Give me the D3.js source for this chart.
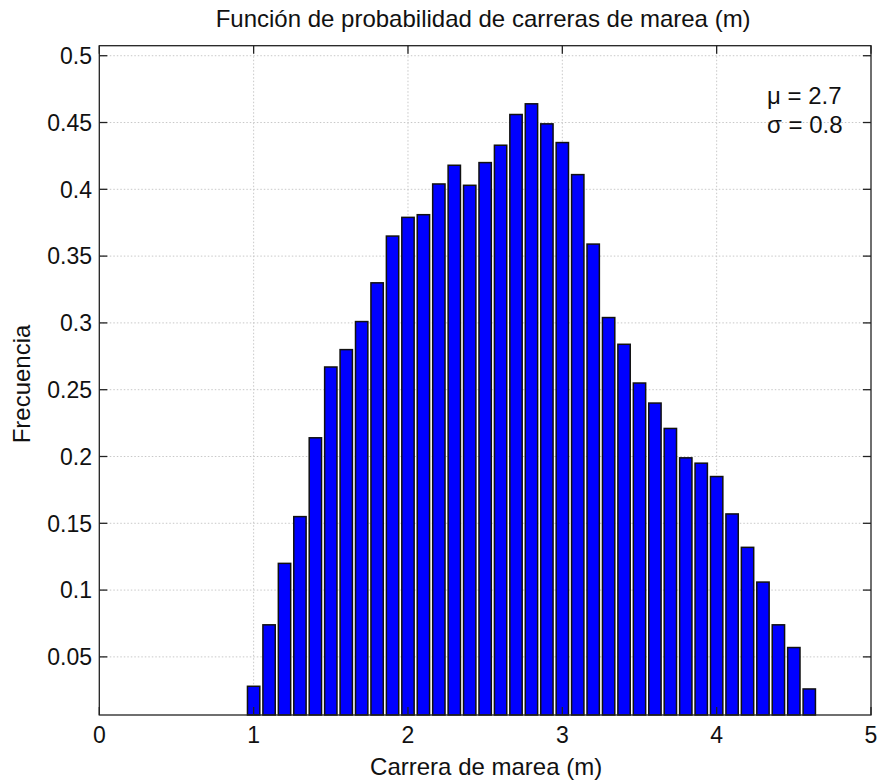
<!DOCTYPE html>
<html>
<head>
<meta charset="utf-8">
<script src="https://cdn.jsdelivr.net/npm/d3@7"></script>
<style>
  html, body { margin: 0; padding: 0; background: #fff; }
  svg { display: block; font-family: "Liberation Sans", Arial, sans-serif; }
</style>
</head>
<body>
<svg id="chart" width="879" height="780"></svg>
<script>
// ---- data ----
const binCenters = [1.0,1.1,1.2,1.3,1.4,1.5,1.6,1.7,1.8,1.9,2.0,2.1,2.2,2.3,2.4,2.5,2.6,2.7,2.8,2.9,3.0,3.1,3.2,3.3,3.4,3.5,3.6,3.7,3.8,3.9,4.0,4.1,4.2,4.3,4.4,4.5,4.6];
const frequencies = [0.028,0.074,0.120,0.155,0.214,0.267,0.280,0.301,0.330,0.365,0.379,0.381,0.404,0.418,0.403,0.420,0.433,0.456,0.464,0.449,0.435,0.411,0.359,0.304,0.284,0.255,0.240,0.221,0.199,0.195,0.185,0.157,0.132,0.106,0.074,0.057,0.026];
const xTicks = [0,1,2,3,4,5];
const yTicks = [0.05,0.1,0.15,0.2,0.25,0.3,0.35,0.4,0.45,0.5];
const yTickLabels = ["0.05","0.1","0.15","0.2","0.25","0.3","0.35","0.4","0.45","0.5"];
const titleText = "Función de probabilidad de carreras de marea (m)";
const xLabelText = "Carrera de marea (m)";
const yLabelText = "Frecuencia";
const statLines = ["\u03BC = 2.7", "\u03C3 = 0.8"];
const binWidth = 0.1;

// ---- layout ----
const L = 99.3, R = 871, T = 45.7, B = 715;
const svg = d3.select("#chart");
const x = d3.scaleLinear().domain([0, 5]).range([L, R]);
const y = d3.scaleLinear().domain([0.0065, 0.5075]).range([B, T]);

// grid
const grid = svg.append("g").attr("stroke", "#c8c8c8").attr("stroke-width", 1).attr("stroke-dasharray", "1.5,2");
grid.selectAll("line.gx").data(xTicks.filter(d => d > 0 && d < 5)).join("line")
  .attr("x1", d => x(d)).attr("x2", d => x(d)).attr("y1", T).attr("y2", B);
grid.selectAll("line.gy").data(yTicks).join("line")
  .attr("x1", L).attr("x2", R).attr("y1", d => y(d)).attr("y2", d => y(d));

// bars
const bw = x(binWidth * 0.8) - x(0);
svg.append("g").selectAll("rect").data(binCenters).join("rect")
  .attr("x", (d) => x(d) - bw / 2)
  .attr("y", (d, i) => y(frequencies[i]))
  .attr("width", bw)
  .attr("height", (d, i) => B - y(frequencies[i]))
  .attr("fill", "#0000ff")
  .attr("stroke", "#111")
  .attr("stroke-width", 1.5);

// axes (MATLAB style, ticks inside on all four sides)
const tickLen = 8;
const axisColor = "#222";
const axes = svg.append("g").attr("stroke", axisColor).attr("stroke-width", 1.3);
axes.append("rect").attr("x", L).attr("y", T).attr("width", R - L).attr("height", B - T).attr("fill", "none");
axes.selectAll("line.xtb").data(xTicks).join("line")
  .attr("x1", d => x(d)).attr("x2", d => x(d)).attr("y1", B).attr("y2", B - tickLen);
axes.selectAll("line.xtt").data(xTicks).join("line")
  .attr("x1", d => x(d)).attr("x2", d => x(d)).attr("y1", T).attr("y2", T + tickLen);
axes.selectAll("line.ytl").data(yTicks).join("line")
  .attr("x1", L).attr("x2", L + tickLen).attr("y1", d => y(d)).attr("y2", d => y(d));
axes.selectAll("line.ytr").data(yTicks).join("line")
  .attr("x1", R).attr("x2", R - tickLen).attr("y1", d => y(d)).attr("y2", d => y(d));

// tick labels
const fs = 23;
svg.append("g").selectAll("text").data(xTicks).join("text")
  .attr("x", d => x(d)).attr("y", 743)
  .attr("text-anchor", "middle").attr("font-size", fs).attr("fill", "#111")
  .text(d => d);
svg.append("g").selectAll("text").data(yTicks).join("text")
  .attr("x", 92).attr("y", d => y(d)).attr("dy", "0.36em")
  .attr("text-anchor", "end").attr("font-size", fs).attr("fill", "#111")
  .text((d, i) => yTickLabels[i]);

// title & labels
svg.append("text").attr("x", (L + R) / 2 - 2).attr("y", 27)
  .attr("text-anchor", "middle").attr("font-size", 24).attr("fill", "#111").text(titleText);
svg.append("text").attr("x", (L + R) / 2 + 1).attr("y", 775)
  .attr("text-anchor", "middle").attr("font-size", 24).attr("fill", "#111").text(xLabelText);
svg.append("text").attr("transform", `translate(30,${384}) rotate(-90)`)
  .attr("text-anchor", "middle").attr("font-size", 24).attr("fill", "#111").text(yLabelText);

// stats annotation
svg.append("g").selectAll("text").data(statLines).join("text")
  .attr("x", 767).attr("y", (d, i) => 104 + i * 28.5)
  .attr("font-size", 24).attr("fill", "#111").text(d => d);
</script>
</body>
</html>
